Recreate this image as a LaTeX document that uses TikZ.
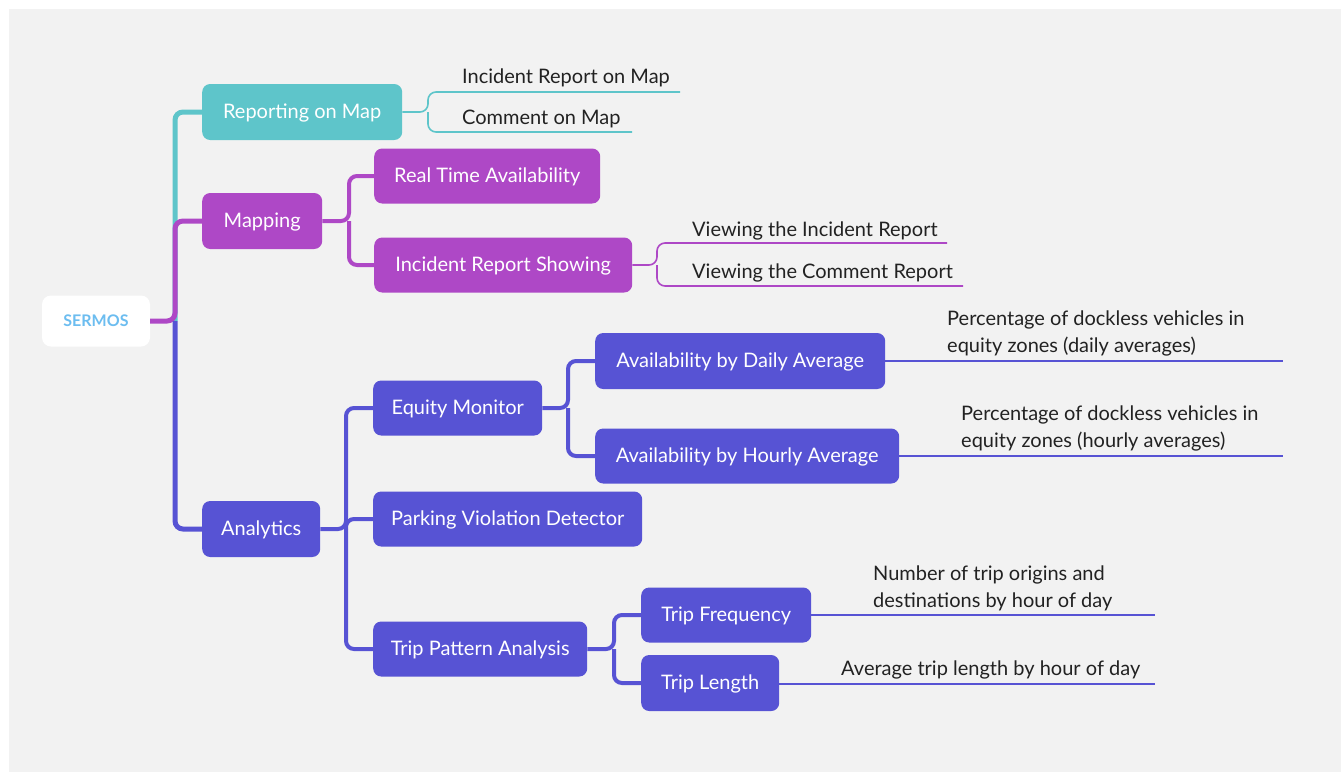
\documentclass[tikz,border=0pt]{standalone}
\usepackage{fontspec}
\setmainfont{Lato}
\definecolor{bgc}{HTML}{F2F2F2}
\definecolor{tealc}{HTML}{5EC5CA}
\definecolor{purc}{HTML}{AE48C6}
\definecolor{bluc}{HTML}{5753D4}
\definecolor{skyc}{HTML}{6CBDF0}
\definecolor{txtc}{HTML}{222222}
\begin{document}
\begin{tikzpicture}[x=1pt,y=-1pt,
  box/.style={rounded corners=8pt, inner sep=0pt, minimum height=56pt, text=white,
    font=\fontsize{20}{24}\selectfont, anchor=west, text height=14pt, text depth=2pt},
  leaf/.style={inner sep=0pt, text=txtc, font=\fontsize{20}{27}\selectfont, anchor=west, align=left},
  thick1/.style={line width=5pt, rounded corners=8pt},
  thick2/.style={line width=4pt, rounded corners=8pt},
  thin/.style={line width=1.6pt, rounded corners=8pt}]
\useasboundingbox (0,0) rectangle (1341,772);
\fill[white] (0,0) rectangle (1341,772);
\fill[bgc] (9,9) rectangle (1341,772);

% nodes
\node[rounded corners=9pt, fill=white, minimum width=108pt, minimum height=51pt, inner sep=0pt,
  text=skyc, font=\fontsize{16}{18}\selectfont\bfseries] (sermos) at (96,321) {SERMOS};
\node[box, fill=tealc, minimum width=200pt] (rep) at (202,112) {Reporting on Map};
\node[box, fill=purc, minimum width=120pt] (map) at (202,221) {Mapping};
\node[box, fill=bluc, minimum width=118pt] (ana) at (202,529) {Analytics};
\node[box, fill=purc, minimum width=226pt, minimum height=55pt] (rta) at (374,176) {Real Time Availability};
\node[box, fill=purc, minimum width=258pt, minimum height=55pt] (irs) at (374,265) {Incident Report Showing};
\node[box, fill=bluc, minimum width=169pt, minimum height=55pt] (eqm) at (373,408) {Equity Monitor};
\node[box, fill=bluc, minimum width=269pt, minimum height=55pt] (pvd) at (373,519) {Parking Violation Detector};
\node[box, fill=bluc, minimum width=214pt, minimum height=55pt] (tpa) at (373,649) {Trip Pattern Analysis};
\node[box, fill=bluc, minimum width=290pt] (dly) at (595,361) {Availability by Daily Average};
\node[box, fill=bluc, minimum width=304pt, minimum height=55pt] (hrl) at (595,456) {Availability by Hourly Average};
\node[box, fill=bluc, minimum width=170pt, minimum height=55pt] (tfq) at (641,615) {Trip Frequency};
\node[box, fill=bluc, minimum width=138pt] (tln) at (641,683) {Trip Length};

% leaf texts
\node[leaf] (l1) at (462,78) {Incident Report on Map};
\node[leaf] (l2) at (462,119) {Comment on Map};
\node[leaf] (l3) at (692,231) {Viewing the Incident Report};
\node[leaf] (l4) at (692,273) {Viewing the Comment Report};
\node[leaf] (l5) at (947,333) {Percentage of dockless vehicles in\\equity zones (daily averages)};
\node[leaf] (l6) at (961,428) {Percentage of dockless vehicles in\\equity zones (hourly averages)};
\node[leaf] (l7) at (873,588) {Number of trip origins and\\destinations by hour of day};
\node[leaf] (l8) at (841,670) {Average trip length by hour of day};

% junctions
\coordinate (j0) at (175,321);
\coordinate (j1) at (349,221);
\coordinate (j2) at (346,529);
\coordinate (j3) at (568,408);
\coordinate (j4) at (614,649);
\coordinate (b1) at (428,112);
\coordinate (b2) at (657,265);
\coordinate (e1) at (680,92);
\coordinate (e2) at (632,132);
\coordinate (e3) at (947,243);
\coordinate (e4) at (963,286);
\coordinate (e5) at (1283,361);
\coordinate (e6) at (1283,456);
\coordinate (e7) at (1155,615);
\coordinate (e8) at (1155,684);

% main connectors
\draw[thick1, tealc] (j0) |- (rep.west);
\draw[thick1, purc] (sermos.east) -- (j0) |- (map.west);
\draw[thick1, bluc] (j0) |- (ana.west);

\draw[thick2, purc] (map.east) -- (j1) |- (rta.west);
\draw[thick2, purc] (j1) |- (irs.west);
\draw[thick2, bluc] (ana.east) -- (j2) |- (eqm.west);
\draw[thick2, bluc] (j2) |- (pvd.west);
\draw[thick2, bluc] (j2) |- (tpa.west);
\draw[thick2, bluc] (eqm.east) -- (j3) |- (dly.west);
\draw[thick2, bluc] (j3) |- (hrl.west);
\draw[thick2, bluc] (tpa.east) -- (j4) |- (tfq.west);
\draw[thick2, bluc] (j4) |- (tln.west);

% leaf connectors
\draw[thin, tealc] (rep.east) -- (b1) |- (e1);
\draw[thin, tealc] (b1) |- (e2);
\draw[thin, purc] (irs.east) -- (b2) |- (e3);
\draw[thin, purc] (b2) |- (e4);
\draw[thin, bluc] (dly.east) -- (e5);
\draw[thin, bluc] (hrl.east) -- (e6);
\draw[thin, bluc] (tfq.east) -- (e7);
\draw[thin, bluc] (tln.east |- e8) -- (e8);
\end{tikzpicture}
\end{document}
